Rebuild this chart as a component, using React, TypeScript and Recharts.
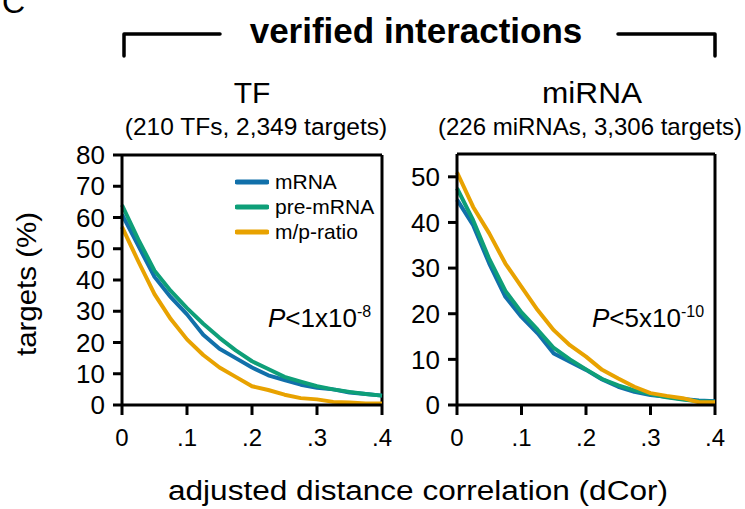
import React from 'react';
import { LineChart, Line, XAxis, YAxis, ReferenceLine, Legend } from 'recharts';

const FONT = '"Liberation Sans", Arial, Helvetica, sans-serif';

// dCor thresholds (x)
const dCor = [0, 0.025, 0.05, 0.075, 0.1, 0.125, 0.15, 0.175, 0.2, 0.225, 0.25, 0.275, 0.3, 0.325, 0.35, 0.375, 0.4];

// TF panel: % targets
const tfMrna = [61, 51, 41, 34.5, 29, 22.5, 18, 15, 12, 9.5, 8, 6.5, 5.5, 5, 4, 3.5, 3];
const tfPre = [64, 53, 43, 36.5, 31, 26, 21.5, 17.5, 14, 11.5, 9, 7.5, 6, 5, 4.2, 3.5, 3];
const tfRatio = [57, 46, 35.5, 27.5, 21, 16, 12, 9, 6, 4.8, 3.3, 2.2, 1.8, 1, 0.8, 0.5, 0.5];

// miRNA panel: % targets
const mirMrna = [45, 39.4, 31, 23.7, 19.3, 15.7, 11.3, 9.5, 7.7, 5.6, 4, 2.9, 2.2, 1.8, 1.3, 1, 0.8];
const mirPre = [47.5, 40.5, 32, 25, 20.3, 16.5, 12.5, 10, 7.8, 5.7, 4.3, 3.2, 2.4, 1.7, 1.2, 0.8, 0.7];
const mirRatio = [51, 43.4, 37.6, 31, 25.9, 20.8, 16.4, 13.1, 10.6, 7.7, 5.8, 4, 2.6, 2, 1.5, 0.6, 0.6];

const xTicks = [0, 0.1, 0.2, 0.3, 0.4];
const tfYTicks = [0, 10, 20, 30, 40, 50, 60, 70, 80];
const mirYTicks = [0, 10, 20, 30, 40, 50];

const seriesNames = ['mRNA', 'pre-mRNA', 'm/p-ratio'];
const colors = ['#1170aa', '#0e9f78', '#e8a200'];

const buildRows = (a: number[], b: number[], c: number[]) =>
  dCor.map((d, i) => ({ d, mrna: a[i], pre: b[i], ratio: c[i] }));

const fmtX = (v: number) => (v === 0 ? '0' : '.' + Math.round(v * 10));

// keep legend in series order (recharts sorts by name otherwise)
const LegendBox = (props: any) => {
  const items = [...(props.payload || [])].sort(
    (a: any, b: any) => seriesNames.indexOf(a.value) - seriesNames.indexOf(b.value)
  );
  return (
    <div style={{ fontFamily: FONT }}>
      {items.map((p: any) => (
        <div key={p.value} style={{ display: 'flex', alignItems: 'center', height: 25 }}>
          <svg width={34} height={10}>
            <line x1={2} y1={5} x2={32} y2={5} stroke={p.color} strokeWidth={5} strokeLinecap="round" />
          </svg>
          <span style={{ fontSize: 21, marginLeft: 6, color: '#000' }}>{p.value}</span>
        </div>
      ))}
    </div>
  );
};

const axisStroke = { stroke: '#000', strokeWidth: 3 };

function Panel({ rows, yMax, yTicks, margin, showLegend }: any) {
  return (
    <div style={{ position: 'absolute', left: 0, top: 0 }}>
      <LineChart width={745} height={509} data={rows} margin={margin}>
        <XAxis
          type="number"
          dataKey="d"
          domain={[0, 0.4]}
          ticks={xTicks}
          interval={0}
          tickFormatter={fmtX}
          axisLine={axisStroke}
          tickLine={axisStroke}
          tickSize={10}
          tickMargin={14}
          height={40}
          tick={{ fill: '#000', fontSize: 24, fontFamily: FONT }}
        />
        <YAxis
          type="number"
          domain={[0, yMax]}
          ticks={yTicks}
          interval={0}
          width={60}
          axisLine={axisStroke}
          tickLine={axisStroke}
          tickSize={9}
          tickMargin={8}
          tick={{ fill: '#000', fontSize: 26, fontFamily: FONT }}
        />
        <ReferenceLine y={yMax} stroke="#000" strokeWidth={3} />
        <ReferenceLine x={0.4} stroke="#000" strokeWidth={3} />
        {showLegend && (
          <Legend
            layout="vertical"
            align="center"
            verticalAlign="middle"
            content={<LegendBox />}
            wrapperStyle={{ left: 235, top: 169, width: 150 }}
          />
        )}
        <Line type="linear" dataKey="mrna" name={seriesNames[0]} stroke={colors[0]} strokeWidth={4} dot={false} isAnimationActive={false} strokeLinejoin="round" />
        <Line type="linear" dataKey="pre" name={seriesNames[1]} stroke={colors[1]} strokeWidth={4} dot={false} isAnimationActive={false} strokeLinejoin="round" />
        <Line type="linear" dataKey="ratio" name={seriesNames[2]} stroke={colors[2]} strokeWidth={4} dot={false} isAnimationActive={false} strokeLinejoin="round" />
      </LineChart>
    </div>
  );
}

export default function App() {
  const tfRows = buildRows(tfMrna, tfPre, tfRatio);
  const mirRows = buildRows(mirMrna, mirPre, mirRatio);
  return (
    <div style={{ position: 'absolute', left: 0, top: 0, width: 745, height: 509, background: '#fff', overflow: 'hidden' }}>
      <Panel rows={tfRows} yMax={80} yTicks={tfYTicks} margin={{ top: 155, right: 363, bottom: 64, left: 62 }} showLegend />
      <Panel rows={mirRows} yMax={55} yTicks={mirYTicks} margin={{ top: 154, right: 30, bottom: 64, left: 397 }} />
      <svg width={745} height={509} style={{ position: 'absolute', left: 0, top: 0, pointerEvents: 'none' }} fontFamily={FONT}>
        <text x={2} y={13} fontSize={32}>C</text>
        <path d="M124 56 V34 H220 M618 34 H715 V56" stroke="#000" strokeWidth={3.5} fill="none" strokeLinecap="round" strokeLinejoin="round" />
        <text x={416} y={43} fontSize={35} fontWeight="bold" textAnchor="middle">verified interactions</text>
        <text x={252} y={103} fontSize={30} textAnchor="middle">TF</text>
        <text x={592} y={103} fontSize={30} textAnchor="middle" textLength={100} lengthAdjust="spacingAndGlyphs">miRNA</text>
        <text x={256} y={135} fontSize={24.5} textAnchor="middle">(210 TFs, 2,349 targets)</text>
        <text x={590} y={135} fontSize={24} textAnchor="middle">(226 miRNAs, 3,306 targets)</text>
        <text transform="translate(36,284) rotate(-90)" fontSize={28} textAnchor="middle" textLength={144} lengthAdjust="spacingAndGlyphs">targets (%)</text>
        <text x={418} y={500} fontSize={27} textAnchor="middle" textLength={500} lengthAdjust="spacingAndGlyphs">adjusted distance correlation (dCor)</text>
        <text x={268} y={327} fontSize={26}>
          <tspan fontStyle="italic">P</tspan>
          <tspan>&lt;1x10</tspan>
          <tspan fontSize={16} dy={-10}>-8</tspan>
        </text>
        <text x={592} y={327} fontSize={26}>
          <tspan fontStyle="italic">P</tspan>
          <tspan>&lt;5x10</tspan>
          <tspan fontSize={16} dy={-10}>-10</tspan>
        </text>
      </svg>
    </div>
  );
}
